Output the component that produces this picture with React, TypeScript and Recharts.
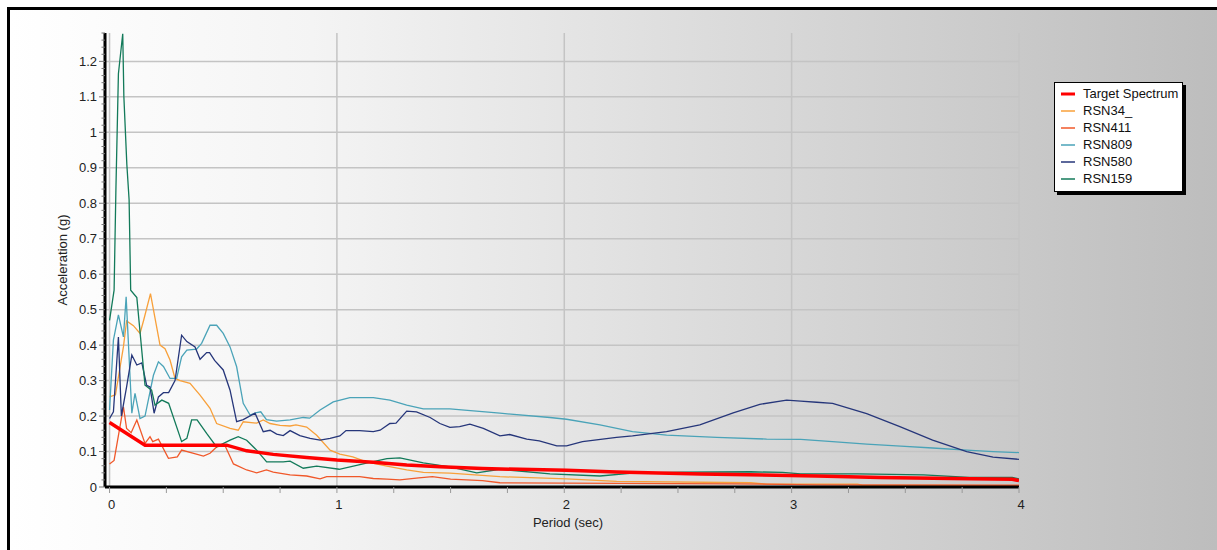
import React from "react";
import { LineChart, Line, XAxis, YAxis, ReferenceLine, Legend, Label } from "recharts";

// Response spectra: period (sec) vs spectral acceleration (g)
const targetPeriod = [0, 0.156, 0.515, 0.603, 0.72, 0.867, 1.0, 1.16, 1.307, 1.453, 1.64, 2.01, 2.23, 2.6, 3.11, 3.39, 3.7, 3.97, 4.0];
const targetAccel = [0.182, 0.118, 0.118, 0.102, 0.092, 0.083, 0.076, 0.07, 0.062, 0.057, 0.052, 0.047, 0.042, 0.037, 0.031, 0.027, 0.024, 0.022, 0.018];

const rsn34Period = [0, 0.026, 0.061, 0.075, 0.105, 0.134, 0.15, 0.18, 0.222, 0.244, 0.266, 0.288, 0.31, 0.354, 0.398, 0.442, 0.471, 0.53, 0.566, 0.588, 0.647, 0.676, 0.706, 0.75, 0.794, 0.82, 0.867, 0.911, 0.97, 1.013, 1.07, 1.13, 1.22, 1.307, 1.38, 1.497, 1.717, 2.01, 2.23, 2.82, 2.89, 3.29, 3.31, 4.0];
const rsn34Accel = [0.254, 0.26, 0.395, 0.468, 0.455, 0.433, 0.47, 0.545, 0.4, 0.39, 0.358, 0.306, 0.3, 0.292, 0.259, 0.222, 0.179, 0.165, 0.16, 0.184, 0.18, 0.189, 0.179, 0.174, 0.172, 0.175, 0.169, 0.146, 0.104, 0.093, 0.085, 0.071, 0.059, 0.048, 0.041, 0.039, 0.029, 0.023, 0.016, 0.012, 0.008, 0.008, 0.005, 0.004];

const rsn411Period = [0, 0.02, 0.061, 0.075, 0.095, 0.12, 0.156, 0.178, 0.19, 0.215, 0.259, 0.298, 0.317, 0.37, 0.413, 0.442, 0.471, 0.507, 0.545, 0.603, 0.647, 0.69, 0.72, 0.794, 0.867, 0.926, 0.955, 1.1, 1.16, 1.22, 1.277, 1.36, 1.42, 1.5, 1.64, 1.717, 2.0, 2.74, 3.11, 4.0];
const rsn411Accel = [0.065, 0.075, 0.226, 0.165, 0.153, 0.189, 0.123, 0.142, 0.128, 0.135, 0.081, 0.085, 0.104, 0.095, 0.087, 0.095, 0.113, 0.118, 0.065, 0.048, 0.04, 0.048, 0.042, 0.034, 0.031, 0.023, 0.029, 0.029, 0.024, 0.022, 0.02, 0.026, 0.029, 0.022, 0.018, 0.012, 0.011, 0.009, 0.006, 0.005];

const rsn809Period = [0, 0.017, 0.039, 0.061, 0.073, 0.098, 0.112, 0.134, 0.156, 0.193, 0.215, 0.237, 0.266, 0.295, 0.317, 0.34, 0.383, 0.405, 0.442, 0.471, 0.5, 0.53, 0.559, 0.588, 0.618, 0.647, 0.665, 0.69, 0.735, 0.794, 0.852, 0.88, 0.926, 0.984, 1.057, 1.16, 1.233, 1.307, 1.38, 1.497, 1.717, 1.937, 2.01, 2.157, 2.3, 2.45, 2.67, 2.89, 3.04, 3.18, 3.33, 3.48, 3.62, 3.77, 3.886, 4.0];
const rsn809Accel = [0.217, 0.414, 0.485, 0.423, 0.536, 0.208, 0.264, 0.193, 0.2, 0.315, 0.353, 0.34, 0.306, 0.306, 0.367, 0.386, 0.389, 0.405, 0.456, 0.456, 0.433, 0.395, 0.339, 0.236, 0.203, 0.21, 0.212, 0.19, 0.186, 0.189, 0.196, 0.194, 0.217, 0.24, 0.252, 0.252, 0.245, 0.231, 0.22, 0.22, 0.208, 0.196, 0.191, 0.175, 0.156, 0.146, 0.14, 0.135, 0.134, 0.128, 0.121, 0.115, 0.11, 0.104, 0.1, 0.097];

const rsn580Period = [0, 0.017, 0.039, 0.052, 0.075, 0.098, 0.12, 0.142, 0.163, 0.178, 0.196, 0.215, 0.237, 0.26, 0.288, 0.317, 0.34, 0.376, 0.398, 0.427, 0.44, 0.462, 0.5, 0.53, 0.559, 0.588, 0.64, 0.676, 0.706, 0.735, 0.764, 0.794, 0.837, 0.882, 0.926, 0.97, 1.013, 1.04, 1.1, 1.16, 1.19, 1.233, 1.26, 1.307, 1.35, 1.41, 1.453, 1.497, 1.54, 1.585, 1.644, 1.717, 1.76, 1.835, 1.89, 1.967, 2.01, 2.08, 2.23, 2.3, 2.45, 2.596, 2.743, 2.86, 2.978, 3.04, 3.11, 3.18, 3.33, 3.476, 3.62, 3.77, 3.886, 4.0];
const rsn580Accel = [0.193, 0.212, 0.423, 0.2, 0.282, 0.372, 0.344, 0.35, 0.287, 0.282, 0.208, 0.254, 0.266, 0.266, 0.3, 0.428, 0.41, 0.395, 0.36, 0.379, 0.379, 0.357, 0.33, 0.273, 0.184, 0.19, 0.208, 0.156, 0.16, 0.149, 0.145, 0.159, 0.145, 0.137, 0.132, 0.137, 0.144, 0.159, 0.159, 0.156, 0.16, 0.179, 0.18, 0.214, 0.212, 0.196, 0.179, 0.168, 0.17, 0.177, 0.165, 0.144, 0.148, 0.135, 0.13, 0.116, 0.116, 0.128, 0.14, 0.144, 0.156, 0.175, 0.209, 0.233, 0.245, 0.242, 0.239, 0.236, 0.207, 0.17, 0.132, 0.1, 0.084, 0.078];

const rsn159Period = [0, 0.02, 0.028, 0.039, 0.058, 0.063, 0.076, 0.086, 0.093, 0.12, 0.156, 0.185, 0.2, 0.23, 0.26, 0.317, 0.34, 0.361, 0.385, 0.427, 0.471, 0.53, 0.566, 0.603, 0.647, 0.691, 0.764, 0.794, 0.852, 0.911, 1.01, 1.13, 1.22, 1.277, 1.38, 1.497, 1.615, 1.717, 1.937, 2.157, 2.3, 2.52, 2.82, 2.96, 3.04, 3.29, 3.58, 3.78, 3.97, 4.0];
const rsn159Accel = [0.47, 0.555, 0.84, 1.165, 1.278, 1.1, 0.91, 0.81, 0.555, 0.534, 0.287, 0.273, 0.231, 0.245, 0.236, 0.128, 0.137, 0.189, 0.189, 0.151, 0.113, 0.132, 0.142, 0.132, 0.104, 0.071, 0.071, 0.073, 0.053, 0.059, 0.05, 0.067, 0.08, 0.082, 0.068, 0.057, 0.04, 0.05, 0.037, 0.031, 0.039, 0.042, 0.043, 0.041, 0.037, 0.037, 0.034, 0.027, 0.027, 0.023];

const xTicks = [0, 0.25, 0.5, 0.75, 1, 1.25, 1.5, 1.75, 2, 2.25, 2.5, 2.75, 3, 3.25, 3.5, 3.75, 4];
const xGridValues = [0, 1, 2, 3, 4];
const yMajorTicks = [0, 0.1, 0.2, 0.3, 0.4, 0.5, 0.6, 0.7, 0.8, 0.9, 1, 1.1, 1.2];
const yTicks = Array.from({ length: 65 }, (_, i) => Math.round(i * 2) / 100);

const toPoints = (ts: number[], as: number[]) => ts.map((t, i) => ({ t, a: as[i] }));

const series = [
  { name: "Target Spectrum", color: "#ff0000", width: 3.5, data: toPoints(targetPeriod, targetAccel) },
  { name: "RSN34_", color: "#f8a03a", width: 1.3, data: toPoints(rsn34Period, rsn34Accel) },
  { name: "RSN411", color: "#f0582a", width: 1.3, data: toPoints(rsn411Period, rsn411Accel) },
  { name: "RSN809", color: "#4aa3b8", width: 1.3, data: toPoints(rsn809Period, rsn809Accel) },
  { name: "RSN580", color: "#26367a", width: 1.3, data: toPoints(rsn580Period, rsn580Accel) },
  { name: "RSN159", color: "#137a5a", width: 1.3, data: toPoints(rsn159Period, rsn159Accel) },
];

const FONT = "'Liberation Sans', Arial, sans-serif";

const YTick = (props: any) => {
  const { x, y, payload } = props;
  const v = payload.value as number;
  const major = yMajorTicks.some((m) => Math.abs(m - v) < 1e-6);
  return (
    <g>
      <line x1={x - (major ? 6 : 3.5)} x2={x} y1={y} y2={y} stroke="#777" strokeWidth={1} />
      {major && (
        <text x={x - 8} y={y} dy={4.5} textAnchor="end" fontSize={13} fontFamily={FONT} fill="#222">
          {String(parseFloat(v.toFixed(1)))}
        </text>
      )}
    </g>
  );
};

const XTick = (props: any) => {
  const { x, y, payload } = props;
  const v = payload.value as number;
  const major = Number.isInteger(v);
  return (
    <g>
      <line x1={x} x2={x} y1={y} y2={y + 6} stroke="#999" strokeWidth={1} />
      {major && (
        <text x={x + 2} y={y + 22} textAnchor="middle" fontSize={13} fontFamily={FONT} fill="#222">
          {String(v)}
        </text>
      )}
    </g>
  );
};

const LegendBox = () => (
  <div
    style={{
      background: "#fff",
      border: "1px solid #000",
      boxShadow: "3px 3px 0 #000",
      padding: "2px 4px 4px 6px",
      fontFamily: FONT,
      fontSize: 13,
      color: "#111",
      whiteSpace: "nowrap",
    }}
  >
    {series.map((s) => (
      <div key={s.name} style={{ display: "flex", alignItems: "center", height: 17 }}>
        <svg width={14} height={4} style={{ marginRight: 8, flex: "none" }}>
          <line
            x1={0}
            x2={14}
            y1={2}
            y2={2}
            stroke={s.color}
            strokeWidth={s.width > 2 ? 3 : 2}
            strokeOpacity={s.width > 2 ? 1 : 0.75}
          />
        </svg>
        <span>{s.name}</span>
      </div>
    ))}
  </div>
);

export default function App() {
  return (
    <div
      style={{
        position: "absolute",
        left: 7,
        top: 7,
        width: 1210,
        height: 543,
        boxSizing: "border-box",
        borderTop: "3px solid #000",
        borderLeft: "3px solid #000",
        background: "linear-gradient(to right, #ffffff 0%, #f4f4f4 25%, #bdbdbd 100%)",
        overflow: "hidden",
      }}
    >
      <LineChart width={1207} height={540} margin={{ top: 23, right: 198, left: 45, bottom: 18 }}>
        <XAxis
          type="number"
          dataKey="t"
          domain={[-0.02, 4]}
          ticks={xTicks}
          interval={0}
          tickSize={0}
          tickMargin={0}
          tick={<XTick />}
          axisLine={{ stroke: "#000", strokeWidth: 3 }}
          height={45}
          allowDataOverflow
        >
          <Label
            content={(p: any) => {
              const vb = p.viewBox || {};
              return (
                <text
                  x={vb.x + vb.width / 2 + 6}
                  y={vb.y + 40}
                  textAnchor="middle"
                  fontSize={13}
                  fontFamily={FONT}
                  fill="#222"
                >
                  Period (sec)
                </text>
              );
            }}
          />
        </XAxis>
        <YAxis
          type="number"
          domain={[0, 1.28]}
          ticks={yTicks}
          interval={0}
          tickSize={0}
          tickMargin={0}
          tick={<YTick />}
          axisLine={{ stroke: "#000", strokeWidth: 3 }}
          width={50}
          allowDataOverflow
        >
          <Label
            content={(p: any) => {
              const vb = p.viewBox || {};
              const cx = vb.x + 7;
              const cy = vb.y + vb.height / 2;
              return (
                <text
                  x={cx}
                  y={cy}
                  transform={`rotate(-90, ${cx}, ${cy})`}
                  textAnchor="middle"
                  dominantBaseline="central"
                  fontSize={13}
                  fontFamily={FONT}
                  fill="#222"
                >
                  Acceleration (g)
                </text>
              );
            }}
          />
        </YAxis>
        {yMajorTicks.slice(1).map((v) => (
          <ReferenceLine key={`h${v}`} y={v} stroke="#c4c4c4" strokeWidth={1.5} />
        ))}
        {xGridValues.map((v) => (
          <ReferenceLine key={`v${v}`} x={v} stroke="#c4c4c4" strokeWidth={1.5} />
        ))}
        {series
          .slice(1)
          .concat(series.slice(0, 1))
          .map((s) => (
            <Line
              key={s.name}
              data={s.data}
              dataKey="a"
              name={s.name}
              type="linear"
              stroke={s.color}
              strokeWidth={s.width}
              dot={false}
              activeDot={false}
              isAnimationActive={false}
            />
          ))}
        <Legend
          layout="vertical"
          align="center"
          verticalAlign="middle"
          content={() => <LegendBox />}
          wrapperStyle={{ left: 1044, top: 72, width: "auto", height: "auto", bottom: "auto", right: "auto" }}
        />
      </LineChart>
    </div>
  );
}
